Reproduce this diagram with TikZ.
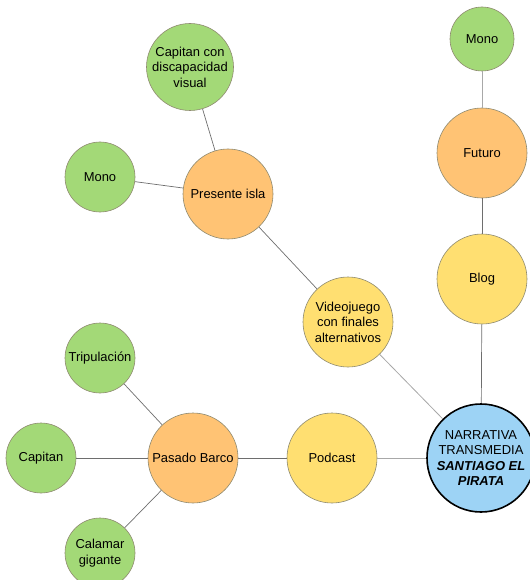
\documentclass[tikz,border=0pt]{standalone}
\usepackage{fontspec}
\setmainfont{Liberation Sans}
\definecolor{cgreen}{HTML}{A3D977}
\definecolor{corange}{HTML}{FFC374}
\definecolor{cyellow}{HTML}{FFDF71}
\definecolor{cblue}{HTML}{9DD3F5}
\definecolor{cborder}{HTML}{8E8A70}
\definecolor{cline}{HTML}{6E6E6E}
\definecolor{clight}{HTML}{A8A8A8}
\tikzset{
  bubble/.style={circle, draw=cborder, line width=0.6bp, inner sep=0pt, align=center,
    font=\fontsize{13}{15.5}\selectfont},
  gbub/.style={bubble, fill=cgreen, minimum size=70bp},
  obub/.style={bubble, fill=corange, minimum size=90bp},
  ybub/.style={bubble, fill=cyellow, minimum size=90bp},
  hub/.style={bubble, fill=cblue, draw=black, line width=1.6bp, minimum size=108bp},
  link/.style={draw=cline, line width=0.7bp},
  lightlink/.style={draw=clight, line width=0.8bp}
}
\begin{document}
\begin{tikzpicture}[x=1bp,y=-1bp]
\useasboundingbox (0,0) rectangle (530,580);
\node[hub] (narr) at (481,458) {NARRATIVA\\TRANSMEDIA\\\textbf{\textit{SANTIAGO EL}}\\\textbf{\textit{PIRATA}}};
\node[gbub, minimum size=64bp] (monor) at (482,39) {Mono};
\node[obub] (futuro) at (482,153) {Futuro};
\node[ybub] (blog) at (482,279) {Blog};
\node[gbub, minimum size=87bp] (capdis) at (190,67) {Capitan con\\discapacidad\\visual};
\node[gbub] (monol) at (100,177) {Mono};
\node[obub] (presente) at (228,194) {Presente isla};
\node[ybub] (video) at (348,322) {Videojuego\\con finales\\alternativos};
\node[gbub] (trip) at (100,358) {Tripulación};
\node[gbub] (capitan) at (41,458) {Capitan};
\node[obub] (pasado) at (193,458) {Pasado Barco};
\node[ybub] (podcast) at (332,458) {Podcast};
\node[gbub] (calamar) at (100,553) {Calamar\\gigante};
\draw[lightlink] (monor) -- (futuro);
\draw[link] (futuro) -- (blog);
\draw[link] (blog) -- (narr);
\draw[link] (capdis) -- (presente);
\draw[link] (monol) -- (presente);
\draw[link] (presente) -- (video);
\draw[lightlink] (video) -- (narr);
\draw[link] (trip) -- (pasado);
\draw[link] (capitan) -- (pasado);
\draw[link] (calamar) -- (pasado);
\draw[link] (pasado) -- (podcast);
\draw[lightlink] (podcast) -- (narr);
\end{tikzpicture}
\end{document}
